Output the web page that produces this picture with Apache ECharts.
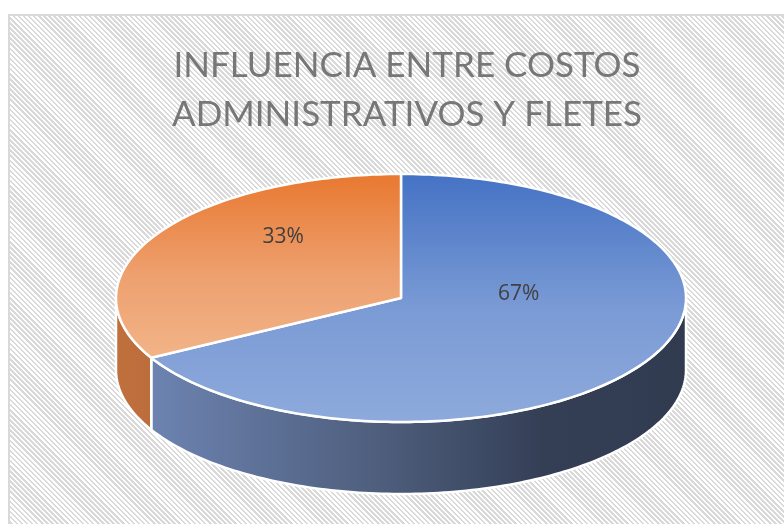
<!DOCTYPE html>
<html>
<head>
<meta charset="utf-8">
<script src="https://cdn.jsdelivr.net/npm/echarts@6/dist/echarts.min.js"></script>
<style>
  html, body { margin: 0; padding: 0; overflow: hidden; background: #fff; }
  #frame {
    position: absolute; left: 8px; top: 14px; width: 800px; height: 530px;
    border: 2px solid #d9d9d9;
    background: repeating-linear-gradient(45deg, #fff 0 1.8px, #d9d9d9 1.8px 3.6px);
  }
  #chart { position: absolute; left: 0; top: 0; width: 784px; height: 524px; }
</style>
</head>
<body>
<div id="frame"></div>
<div id="chart"></div>
<script>
const titleLines = ['INFLUENCIA ENTRE COSTOS', 'ADMINISTRATIVOS Y FLETES']
const categories = ['Costos administrativos', 'Fletes']
const values = [67, 33]

const topColors = [
  ['#4472c4', '#7b9bd5', '#8eaadc'],
  ['#e8782f', '#eea06f', '#f2b488']
]
const wallColors = [
  ['#7189b9', '#4f5f7e', '#343f56', '#313b50'],
  ['#c0703d', '#a25c31', '#834a27', '#7a4424']
]

// pie geometry (pseudo 3d)
const cx = 401, cy = 298, rx = 285, ry = 124, depth = 72

const total = values.reduce((a, b) => a + b, 0)

function pt(t, dy) {
  return [cx + rx * Math.cos(t), cy + ry * Math.sin(t) + (dy || 0)]
}

function arc(a, b, dy) {
  const pts = []
  const n = Math.max(2, Math.ceil(Math.abs(b - a) / 0.02))
  for (let k = 0; k <= n; k++) pts.push(pt(a + (b - a) * k / n, dy))
  return pts
}

function renderItem(params, api) {
  const i = params.dataIndex
  let before = 0
  for (let k = 0; k < i; k++) before += values[k]
  const a0 = -Math.PI / 2 + before / total * Math.PI * 2
  const a1 = a0 + api.value(0) / total * Math.PI * 2
  const children = []

  // front wall, only the part facing the viewer
  const w0 = Math.max(a0, 0), w1 = Math.min(a1, Math.PI)
  if (w1 > w0) {
    const c = wallColors[i]
    children.push({
      type: 'polygon',
      z2: 1,
      shape: { points: arc(w0, w1, 0).concat(arc(w1, w0, depth)) },
      style: {
        fill: {
          type: 'linear', x: cx - rx, y: 0, x2: cx + rx, y2: 0, global: true,
          colorStops: [
            { offset: 0, color: c[0] }, { offset: 0.45, color: c[1] },
            { offset: 0.75, color: c[2] }, { offset: 1, color: c[3] }
          ]
        },
        stroke: '#fff', lineWidth: 2.5
      }
    })
  }

  // top face
  const t = topColors[i]
  children.push({
    type: 'polygon',
    z2: 2,
    shape: { points: [[cx, cy]].concat(arc(a0, a1, 0)) },
    style: {
      fill: {
        type: 'linear', x: 0, y: 0, x2: 0, y2: 1,
        colorStops: [
          { offset: 0, color: t[0] }, { offset: 0.55, color: t[1] }, { offset: 1, color: t[2] }
        ]
      },
      stroke: '#fff', lineWidth: 2.5, lineJoin: 'round'
    }
  })

  // percent label
  const mid = (a0 + a1) / 2
  const pct = Math.round(api.value(0) / total * 100) + '%'
  children.push({
    type: 'text',
    z2: 3,
    style: {
      text: pct,
      x: cx + rx * 0.48 * Math.cos(mid),
      y: cy + ry * 0.45 * Math.sin(mid) - ry * 0.26,
      fill: '#404040',
      font: '21px "Open Sans", sans-serif',
      align: 'center',
      verticalAlign: 'middle'
    }
  })

  return { type: 'group', children }
}

const chart = echarts.init(document.getElementById('chart'))
chart.setOption({
  animation: false,
  backgroundColor: 'transparent',
  title: {
    text: titleLines.join('\n'),
    left: 402,
    top: 36,
    textAlign: 'center',
    textStyle: {
      color: '#777777',
      fontFamily: 'Lato',
      fontWeight: 'normal',
      fontSize: 35,
      lineHeight: 49
    }
  },
  series: [{
    type: 'custom',
    coordinateSystem: 'none',
    renderItem: renderItem,
    data: values.map((v, i) => ({ name: categories[i], value: [v] }))
  }]
})
</script>
</body>
</html>
